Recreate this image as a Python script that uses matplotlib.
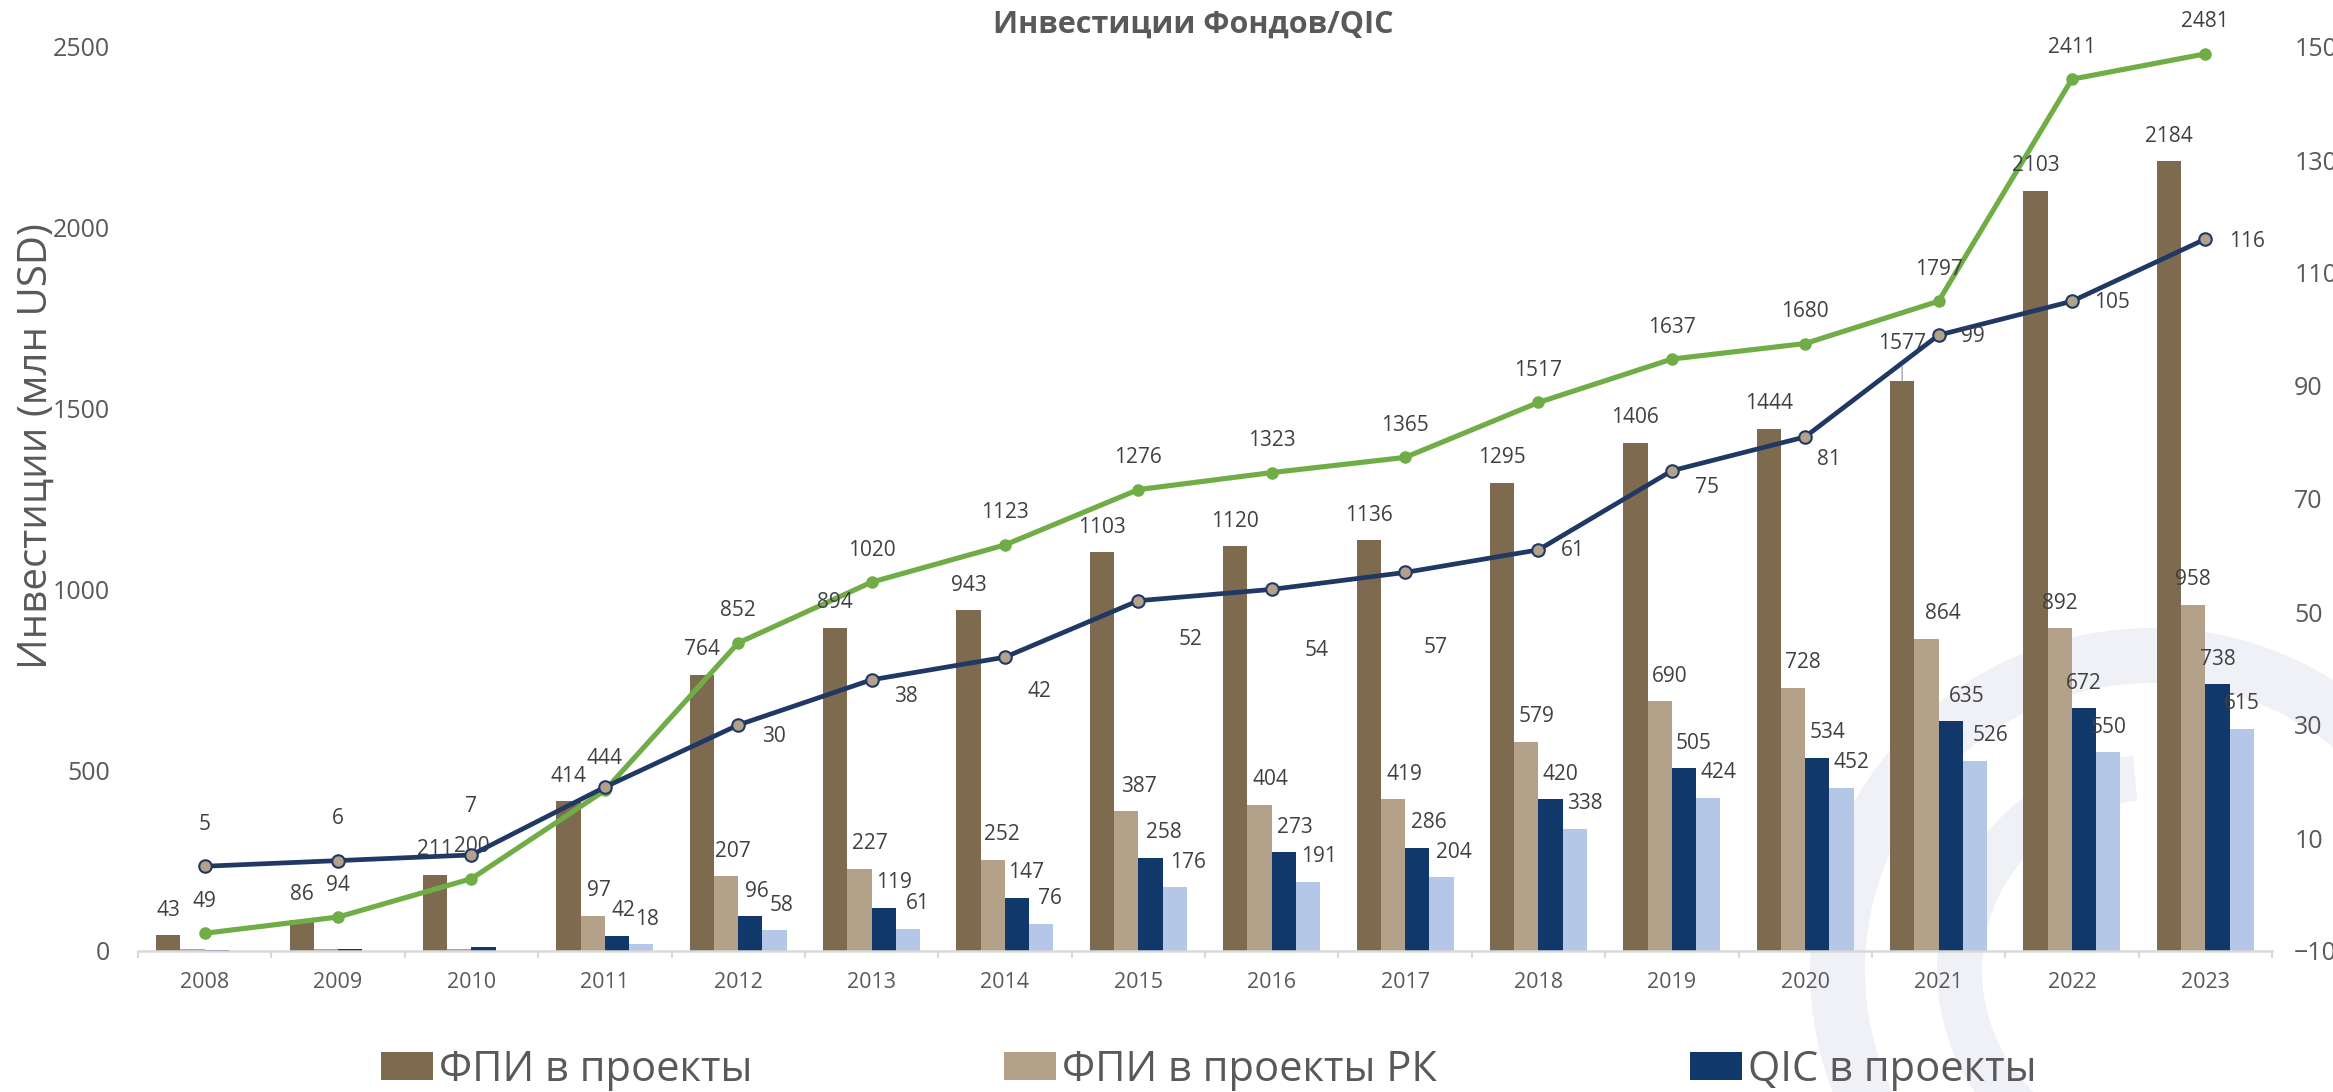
import numpy as np
import matplotlib
matplotlib.use("Agg")
import matplotlib.pyplot as plt
from matplotlib.patches import Wedge

plt.rcParams['font.family'] = ['Open Sans', 'DejaVu Sans']

# ---------------- data ----------------
years = ['2008', '2009', '2010', '2011', '2012', '2013', '2014', '2015',
         '2016', '2017', '2018', '2019', '2020', '2021', '2022', '2023']
fpi_projects = [43, 86, 211, 414, 764, 894, 943, 1103, 1120, 1136, 1295, 1406, 1444, 1577, 2103, 2184]
fpi_projects_rk = [6, 6, 6, 97, 207, 227, 252, 387, 404, 419, 579, 690, 728, 864, 892, 958]
qic_projects = [2, 5, 12, 42, 96, 119, 147, 258, 273, 286, 420, 505, 534, 635, 672, 738]
qic_projects_rk = [0, 0, 0, 18, 58, 61, 76, 176, 191, 204, 338, 424, 452, 526, 550, 615]
total_line = [49, 94, 200, 444, 852, 1020, 1123, 1276, 1323, 1365, 1517, 1637, 1680, 1797, 2411, 2481]
count_line = [5, 6, 7, 19, 30, 38, 42, 52, 54, 57, 61, 75, 81, 99, 105, 116]
count_label_shown = [True, True, True, False, True, True, True, True, True, True, True, True, True, True, True, True]

bar_names = ['ФПИ в проекты', 'ФПИ в проекты РК', 'QIC в проекты', 'QIC в проекты РК']
title = 'Инвестиции Фондов/QIC'
ylabel = 'Инвестиции (млн USD)'

# ---------------- styles ----------------
C_BROWN = '#7E6A4F'
C_TAN = '#B3A18A'
C_NAVY = '#10386A'
C_LIGHT = '#B4C7E7'
C_GREEN = '#70AD47'
C_NAVYLINE = '#1F3864'
C_TEXT = '#595959'
C_LBL = '#404040'
C_AXIS = '#D9D9D9'

# per-label offsets (pixels: dx right, dy down) for the count line labels
count_offsets_px = [(0, -42), (0, -42), (0, -48), (0, 0), (36, 12), (34, 17), (34, 34),
                    (52, 39), (45, 61), (31, 75), (34, 1), (35, 17), (24, 23),
                    (34, 1), (40, 1), (42, 2)]
# horizontal nudge (pixels) of the labels of the three smaller bar series, per year
small_bar_label_dx_px = [0, 0, 0, 6, 7, 10, 9, 13, 11, 12, 10, 10, 10, 16, 0, 0]
# special nudge (pixels above bar top) for one moved bar label with leader line
moved_bar_label = {(0, 13): 37}

W, H = 2333, 1092
DPI = 100
fig = plt.figure(figsize=(W / DPI, H / DPI), dpi=DPI)
PX = 72.0 / DPI  # points per pixel

# faint watermark (decorative logo rings)
wm_color = '#EFF1F7'
for (cx, cy, r, w, t1, t2) in [(2152, 970, 342, 55, 0, 360), (2152, 970, 215, 45, 95, 265)]:
    wed = Wedge((cx / DPI, (H - cy) / DPI), r / DPI, t1, t2, width=w / DPI,
                transform=fig.dpi_scale_trans, facecolor=wm_color, edgecolor='none', zorder=-5)
    fig.patches.append(wed)

ax_left, ax_right = 138 / W, 2272 / W
ax_bottom, ax_top = (H - 951) / H, (H - 47) / H
ax = fig.add_axes([ax_left, ax_bottom, ax_right - ax_left, ax_top - ax_bottom])
ax.patch.set_alpha(0)
ax2 = ax.twinx()
ax2.patch.set_alpha(0)

x = np.arange(len(years))
bw = 0.182
series = [fpi_projects, fpi_projects_rk, qic_projects, qic_projects_rk]
colors = [C_BROWN, C_TAN, C_NAVY, C_LIGHT]
handles = []
for k, (vals, col, name) in enumerate(zip(series, colors, bar_names)):
    xs = x + (k - 1.5) * bw
    bars = ax.bar(xs, vals, width=bw, color=col, label=name, zorder=2, linewidth=0)
    handles.append(bars)
    for i, (xi, v) in enumerate(zip(xs, vals)):
        if v >= 15:
            up = moved_bar_label.get((k, i), 25)
            dx = small_bar_label_dx_px[i] if k > 0 else 0
            kw = {}
            if (k, i) in moved_bar_label:
                kw['arrowprops'] = dict(arrowstyle='-', color='#A6A6A6', lw=1.0,
                                        shrinkA=7, shrinkB=0)
            ax.annotate(str(v), (xi, v), xytext=(dx * PX, up * PX), textcoords='offset points',
                        ha='center', va='center', fontsize=15, color=C_LBL, zorder=5, **kw)

# green total line (left axis)
ax.plot(x, total_line, color=C_GREEN, lw=3.7, marker='o', ms=8,
        markerfacecolor=C_GREEN, markeredgecolor=C_GREEN, zorder=4)
for xi, v in zip(x, total_line):
    ax.annotate(str(v), (xi, v), xytext=(0, 32 * PX), textcoords='offset points',
                ha='center', va='center', fontsize=15, color=C_LBL, zorder=5)

# navy count line (right axis)
ax2.plot(x, count_line, color=C_NAVYLINE, lw=3.4, marker='o', ms=9,
         markerfacecolor=C_TAN, markeredgecolor=C_NAVYLINE, markeredgewidth=1.5, zorder=4)
for xi, v, show, (dx, dy) in zip(x, count_line, count_label_shown, count_offsets_px):
    if show:
        ax2.annotate(str(v), (xi, v), xytext=(dx * PX, -dy * PX), textcoords='offset points',
                     ha='center', va='center', fontsize=15, color=C_LBL, zorder=5)

ax.set_xlim(-0.5, len(years) - 0.5)
ax.set_ylim(0, 2500)
ax2.set_ylim(-10, 150)
ax.set_yticks([0, 500, 1000, 1500, 2000, 2500])
ax2.set_yticks([-10, 10, 30, 50, 70, 90, 110, 130, 150])

ax.set_xticks(x)
ax.set_xticklabels(years)
ax.set_xticks(np.arange(-0.5, len(years)), minor=True)
ax.tick_params(axis='x', which='major', length=0, pad=15, labelsize=15.5, labelcolor=C_TEXT)
ax.tick_params(axis='x', which='minor', length=5, width=1.5, color=C_AXIS, direction='out')
ax.tick_params(axis='y', length=0, pad=20, labelsize=18, labelcolor=C_TEXT)
ax2.tick_params(axis='y', length=0, pad=16, labelsize=18, labelcolor=C_TEXT)
for t in ax2.get_yticklabels():
    t.set_horizontalalignment('left')

for a in (ax, ax2):
    for s in ('top', 'left', 'right', 'bottom'):
        a.spines[s].set_visible(False)
ax.spines['bottom'].set_visible(True)
ax.spines['bottom'].set_color(C_AXIS)
ax.spines['bottom'].set_linewidth(1.8)

fig.text(37 / W, 1 - 446 / H, ylabel, rotation=90, ha='center', va='center',
         fontsize=29, color=C_TEXT)
fig.text(1193 / W, 1 - 25 / H, title, ha='center', va='center', fontsize=22,
         fontweight='bold', color=C_TEXT)

# legend entries (first row, partly cut at bottom)
for h, name, lx in zip(handles[:3], bar_names[:3], [381, 1004, 1690]):
    fig.legend([h], [name], loc='center left', bbox_to_anchor=(lx / W, 1 - 1070 / H),
               frameon=False, fontsize=30, handlelength=1.25, handleheight=0.65,
               handletextpad=0.15, borderpad=0, borderaxespad=0, labelcolor=C_TEXT)

fig.savefig('out.png', dpi=DPI)
